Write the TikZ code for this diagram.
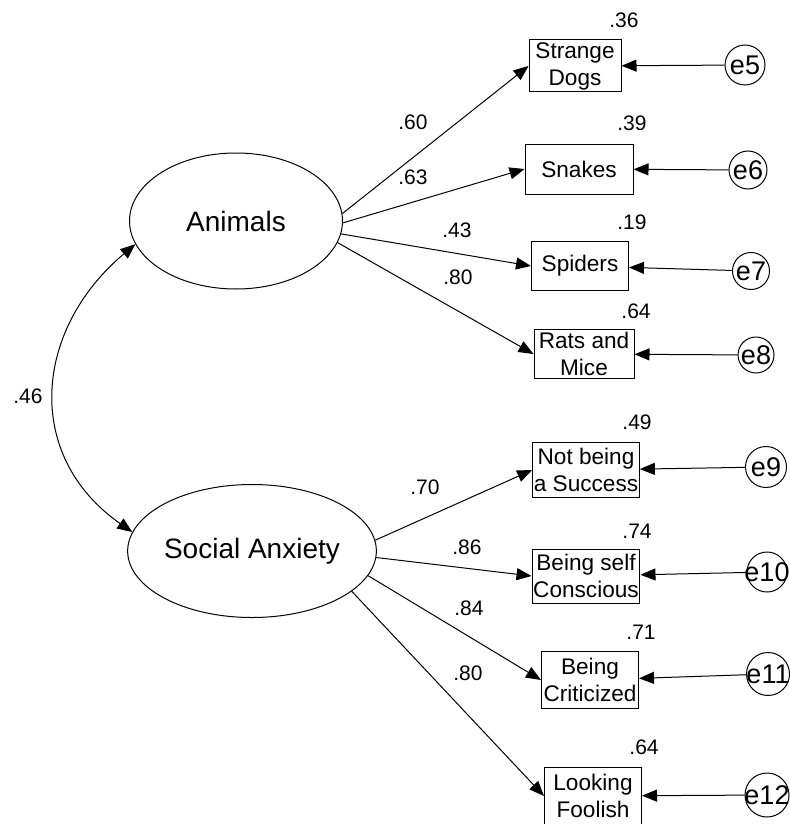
\documentclass[tikz,border=0pt]{standalone}
\usepackage{fontspec}
\setmainfont{Liberation Sans}
\usetikzlibrary{arrows.meta, shapes.geometric}

\begin{document}
\begin{tikzpicture}[
    x=0.5pt, y=-0.5pt, line width=0.5pt,
    latent/.style={draw, ellipse, minimum width=#1, minimum height=68pt,
                   inner sep=0pt, font=\fontsize{14}{16}\selectfont},
    obs/.style={draw, minimum width=#1, minimum height=25pt, inner sep=0.6pt,
                align=center, font=\fontsize{11.3}{13.5}\selectfont},
    err/.style={draw, circle, minimum size=20pt, inner sep=0pt,
                label={[font=\fontsize{13.5}{16}\selectfont]center:#1}},
    coef/.style={font=\fontsize{10.5}{12}\selectfont},
    load/.style={-{Triangle[length=7.5pt, width=6pt]}},
    corr/.style={{Triangle[length=7.5pt, width=6pt]}-{Triangle[length=7.5pt, width=6pt]}}
  ]
    \useasboundingbox (0,0) rectangle (790,824);

    \node[latent=106.5pt] (animals) at (236,221) {Animals};
    \node[latent=105.5pt, minimum height=66.5pt] (social) at (252,551) {Social Anxiety};

    \node[obs=46pt, minimum height=26pt] (dogs) at (575,66) {Strange\\Dogs};
    \node[obs=54pt] (snakes) at (579,169) {Snakes};
    \node[obs=48.5pt, minimum height=24.5pt] (spiders) at (580,266) {Spiders};
    \node[obs=50pt, minimum height=24.5pt] (rats) at (584,354) {Rats and\\Mice};
    \node[obs=49pt, minimum height=27.5pt] (success) at (586,470) {Not being\\a Success};
    \node[obs=49pt, minimum height=27pt] (selfcon) at (586,576) {Being self\\Conscious};
    \node[obs=48.5pt, minimum height=28.5pt] (critic) at (590,680) {Being\\Criticized};
    \node[obs=48.5pt, minimum height=28.5pt] (foolish) at (593,796) {Looking\\Foolish};

    \node[err=e5] (e5) at (745,65) {};
    \node[err=e6, minimum size=19pt] (e6) at (748,170) {};
    \node[err=e7, minimum size=18.5pt] (e7) at (751,271) {};
    \node[err=e8, minimum size=18pt] (e8) at (756,355) {};
    \node[err=e9, minimum size=20.5pt] (e9) at (766,467) {};
    \node[err=e10] (e10) at (767,572) {};
    \node[err=e11, minimum size=21.5pt] (e11) at (768,674) {};
    \node[err=e12, minimum size=22pt] (e12) at (767,795) {};

    \draw[corr] (animals.193) to[out=220, in=145, looseness=1.18] (social.171);
    \node[coef] (r46) at (28,396) {.46};

    \draw[load] (animals.4) -- (dogs.west);
    \draw[load] (animals.-1) -- (snakes.west);
    \draw[load] (animals.-7) -- (spiders.west);
    \draw[load] (animals.-12) -- (rats.west);
    \draw[load] (social.5) -- (success.west);
    \draw[load] (social.-3) -- (selfcon.west);
    \draw[load] (social.-12) -- (critic.west);
    \draw[load] (social.-22) -- (foolish.west);

    \draw[load] (e5) -- (dogs);
    \draw[load] (e6) -- (snakes);
    \draw[load] (e7) -- (spiders);
    \draw[load] (e8) -- (rats);
    \draw[load] (e9) -- (success);
    \draw[load] (e10) -- (selfcon);
    \draw[load] (e11) -- (critic);
    \draw[load] (e12) -- (foolish);

    \node[coef] (w-dogs) at (413,122) {.60};
    \node[coef] (w-snakes) at (413,177) {.63};
    \node[coef] (w-spiders) at (457,230) {.43};
    \node[coef] (w-rats) at (458,277) {.80};
    \node[coef] (w-success) at (425,487) {.70};
    \node[coef] (w-selfcon) at (467,547) {.86};
    \node[coef] (w-critic) at (469,608) {.84};
    \node[coef] (w-foolish) at (468,673) {.80};

    \node[coef] (r-dogs) at (624,20) {.36};
    \node[coef] (r-snakes) at (632,123) {.39};
    \node[coef] (r-spiders) at (632,222) {.19};
    \node[coef] (r-rats) at (636,311) {.64};
    \node[coef] (r-success) at (637,422) {.49};
    \node[coef] (r-selfcon) at (637,531) {.74};
    \node[coef] (r-critic) at (641,632) {.71};
    \node[coef] (r-foolish) at (644,747) {.64};
  \end{tikzpicture}
\end{document}
